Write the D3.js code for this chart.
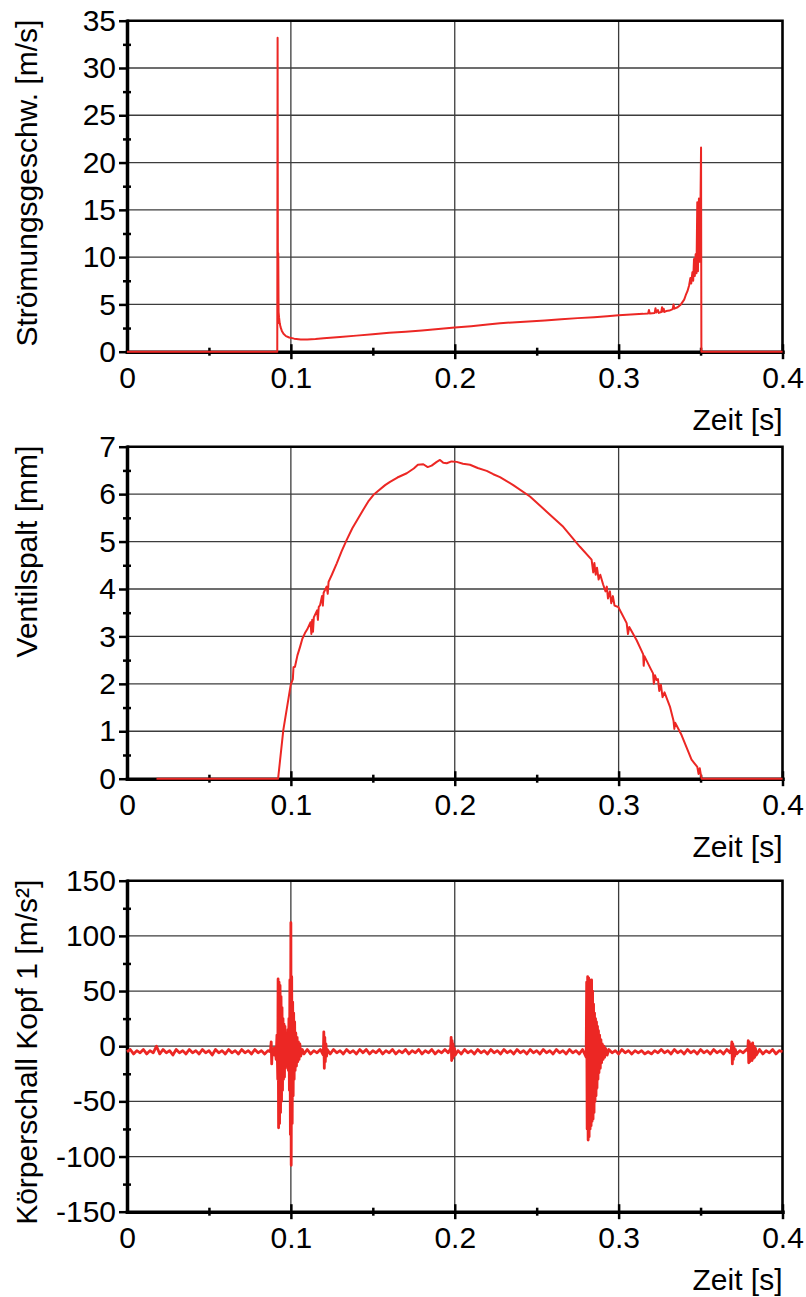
<!DOCTYPE html>
<html>
<head>
<meta charset="utf-8">
<script src="https://cdn.jsdelivr.net/npm/d3@7"></script>
<style>
  body { margin: 0; background: #fff; }
  svg { display: block; }
</style>
</head>
<body>
<div id="charts"></div>
<script>
// Layout constants
const WIDTH = 806;
const HEIGHT = 1297;
const PLOT_LEFT = 127;
const PLOT_RIGHT = 782.5;
const FONT = 'Arial, "Liberation Sans", sans-serif';
const LINE_COLOR = '#ec2724';

// Tick values / labels
const timeTicks = [0, 0.1, 0.2, 0.3, 0.4];
const velocityTicks = [0, 5, 10, 15, 20, 25, 30, 35];
const gapTicks = [0, 1, 2, 3, 4, 5, 6, 7];
const accelTicks = [-150, -100, -50, 0, 50, 100, 150];

// Axis titles
const timeTitle = 'Zeit [s]';
const velocityTitle = 'Strömungsgeschw. [m/s]';
const gapTitle = 'Ventilspalt [mm]';
const accelTitle = 'Körperschall Kopf 1 [m/s²]';

// Flow velocity [m/s] over time [s]
const velocityData = [
  [0, 0], [0.0917, 0], [0.0919, 33.2], [0.0921, 3.0], [0.0923, 10.4], [0.0925, 4.2],
  [0.0928, 3.6], [0.0932, 3.0], [0.0937, 2.6], [0.0945, 2.2], [0.0955, 1.9], [0.097, 1.65],
  [0.099, 1.5], [0.102, 1.38], [0.106, 1.3], [0.11, 1.3], [0.115, 1.35], [0.12, 1.42],
  [0.13, 1.55], [0.14, 1.7], [0.15, 1.85], [0.16, 2.0], [0.17, 2.12], [0.18, 2.25],
  [0.19, 2.4], [0.2, 2.55], [0.21, 2.7], [0.22, 2.88], [0.2276, 3.0], [0.235, 3.1],
  [0.245, 3.2], [0.255, 3.3], [0.265, 3.42], [0.275, 3.55], [0.285, 3.65], [0.293, 3.75],
  [0.3, 3.85], [0.305, 3.9], [0.31, 3.95], [0.315, 4.0], [0.318, 4.05], [0.3185, 4.4],
  [0.319, 4.05], [0.322, 4.1], [0.3225, 4.6], [0.323, 4.15], [0.324, 4.4], [0.3245, 4.1],
  [0.326, 4.2], [0.3265, 4.7], [0.327, 4.25], [0.3275, 4.55], [0.328, 4.2], [0.329, 4.3],
  [0.331, 4.35], [0.333, 4.5], [0.3335, 5.0], [0.334, 4.55], [0.336, 4.7], [0.338, 5.0],
  [0.34, 5.5], [0.341, 6.0], [0.342, 6.4], [0.343, 7.0], [0.3438, 7.8], [0.3443, 7.2],
  [0.345, 8.4], [0.3455, 7.5], [0.346, 9.8], [0.3465, 8.0], [0.347, 10.3], [0.3475, 8.3],
  [0.348, 15.8], [0.3484, 8.5], [0.349, 16.2], [0.3494, 9.5], [0.3498, 13], [0.3503, 21.6],
  [0.3505, 0], [0.4, 0]
];

// Valve gap [mm] over time [s]
const gapData = [
  [0.018, 0], [0.0922, 0], [0.0954, 1.03], [0.0999, 1.98], [0.1012, 2.1], [0.1016, 2.35],
  [0.1025, 2.36], [0.104, 2.6], [0.1056, 2.78], [0.107, 2.95], [0.1086, 3.07], [0.11, 3.15],
  [0.112, 3.3], [0.1125, 3.05], [0.113, 3.35], [0.1135, 3.1], [0.114, 3.4], [0.116, 3.55],
  [0.1165, 3.35], [0.117, 3.62], [0.1178, 3.66], [0.119, 3.85], [0.1195, 3.65], [0.12, 3.92],
  [0.1218, 4.05], [0.1225, 3.9], [0.123, 4.15], [0.125, 4.3], [0.128, 4.54], [0.131, 4.8],
  [0.134, 5.03], [0.1375, 5.28], [0.1411, 5.49], [0.145, 5.72], [0.1475, 5.86], [0.1503, 5.98],
  [0.153, 6.06], [0.1575, 6.19], [0.1605, 6.26], [0.165, 6.35], [0.1707, 6.44], [0.175, 6.54],
  [0.1775, 6.62], [0.1808, 6.63], [0.1835, 6.57], [0.1859, 6.6], [0.189, 6.68], [0.191, 6.72],
  [0.193, 6.66], [0.1951, 6.65], [0.198, 6.69], [0.2012, 6.68], [0.205, 6.64], [0.2093, 6.62],
  [0.214, 6.55], [0.2195, 6.49], [0.2235, 6.42], [0.2276, 6.36], [0.2357, 6.19], [0.2459, 5.95],
  [0.2561, 5.63], [0.2662, 5.31], [0.2764, 4.89], [0.2835, 4.62], [0.2845, 4.35], [0.2852, 4.55],
  [0.286, 4.3], [0.2868, 4.45], [0.2878, 4.2], [0.2888, 4.3], [0.2905, 4.1], [0.292, 3.95],
  [0.2928, 4.05], [0.2935, 3.8], [0.2947, 3.95], [0.2955, 3.7], [0.2965, 3.85], [0.2975, 3.65],
  [0.2998, 3.62], [0.3049, 3.28], [0.3057, 3.05], [0.3065, 3.2], [0.311, 2.92], [0.315, 2.62],
  [0.3153, 2.38], [0.3158, 2.58], [0.3195, 2.32], [0.321, 2.22], [0.3215, 2.0], [0.3222, 2.18],
  [0.3232, 2.08], [0.324, 2.1], [0.3248, 1.85], [0.3258, 1.98], [0.3268, 1.72], [0.328, 1.82],
  [0.3313, 1.52], [0.3335, 1.22], [0.334, 1.05], [0.3345, 1.18], [0.3384, 0.92], [0.3445, 0.4],
  [0.348, 0.25], [0.3488, 0.1], [0.3495, 0.22], [0.3506, 0], [0.4, 0]
];

// Structure-borne sound, head 1 [m/s²] over time [s]
const accelData = [
  [0, -5], [0.002, -3], [0.004, -7], [0.006, -4], [0.008, -6], [0.010, -3], [0.012, -7], [0.014, -4],
  [0.016, -6], [0.018, 0], [0.020, -7], [0.022, -3], [0.024, -6], [0.026, -4], [0.028, -8], [0.030, -3],
  [0.032, -6], [0.034, -4], [0.036, -7], [0.038, -3], [0.040, -6], [0.042, -4], [0.044, -7], [0.046, -3],
  [0.048, -6], [0.050, -4], [0.052, -8], [0.054, -3], [0.056, -6], [0.058, -4], [0.060, -7], [0.062, -3],
  [0.064, -6], [0.066, -4], [0.068, -7], [0.070, -3], [0.072, -6], [0.074, -4], [0.076, -7], [0.078, -3],
  [0.080, -6], [0.082, -4], [0.084, -7], [0.086, -4],
  [0.0875, -5], [0.088, 4], [0.0883, -16], [0.0886, -3], [0.089, -7], [0.0895, -2], [0.090, -8],
  [0.0905, -1], [0.091, -12], [0.0915, 10], [0.092, -30], [0.0922, 61], [0.0925, -74], [0.0928, 58],
  [0.0931, -70], [0.0934, 55], [0.0937, -60], [0.094, 45], [0.0943, -50], [0.0946, 35], [0.0949, -40],
  [0.0952, 25], [0.0955, -30], [0.0958, 20], [0.0961, -28], [0.0964, 18], [0.0967, -20], [0.097, 12],
  [0.0973, -15], [0.0976, 10], [0.0979, -18], [0.0982, 15], [0.0985, -22], [0.0988, 25], [0.0991, -40],
  [0.0994, 60], [0.0997, -80], [0.1000, 112], [0.1002, -108], [0.1005, 63], [0.1008, -70], [0.1011, 40],
  [0.1014, -45], [0.1017, 30], [0.102, -30], [0.1023, 22], [0.1026, -22], [0.103, 12], [0.1034, -18],
  [0.1038, 8], [0.1042, -14], [0.1046, 4], [0.105, -12], [0.1055, 2], [0.106, -9], [0.107, -3],
  [0.108, -7], [0.110, -3], [0.112, -7], [0.114, -4], [0.116, -6], [0.118, -3],
  [0.1198, -8], [0.1201, 13], [0.1204, -20], [0.1207, 8], [0.121, -14], [0.1214, 2], [0.1218, -9], [0.1222, -3],
  [0.124, -7], [0.126, -3], [0.128, -6], [0.130, -4], [0.132, -7], [0.134, -3], [0.136, -6], [0.138, -4],
  [0.140, -7], [0.142, -3], [0.144, -6], [0.146, -3], [0.148, -7], [0.150, -4], [0.152, -6], [0.154, -3],
  [0.156, -7], [0.158, -4], [0.160, -6], [0.162, -3], [0.164, -7], [0.166, -4], [0.168, -6], [0.170, -3],
  [0.172, -7], [0.174, -4], [0.176, -6], [0.178, -3], [0.180, -7], [0.182, -4], [0.184, -6], [0.186, -3],
  [0.188, -7], [0.190, -4], [0.192, -6], [0.194, -3], [0.196, -6],
  [0.1975, -2], [0.1978, 8], [0.1981, -13], [0.1984, 5], [0.1987, -11], [0.199, 2], [0.1994, -9],
  [0.1998, -2], [0.2003, -8],
  [0.202, -4], [0.204, -7], [0.206, -3], [0.208, -6], [0.210, -4], [0.212, -7], [0.214, -3], [0.216, -6],
  [0.218, -4], [0.220, -7], [0.222, -3], [0.224, -6], [0.226, -4], [0.228, -7], [0.230, -3], [0.232, -6],
  [0.234, -4], [0.236, -7], [0.238, -3], [0.240, -6], [0.242, -4], [0.244, -7], [0.246, -3], [0.248, -6],
  [0.250, -4], [0.252, -7], [0.254, -3], [0.256, -6], [0.258, -4], [0.260, -7], [0.262, -3], [0.264, -6],
  [0.266, -4], [0.268, -7], [0.270, -3], [0.272, -6], [0.274, -4], [0.276, -7], [0.278, -3],
  [0.2802, -10], [0.2805, 58], [0.2808, -75], [0.2811, 63], [0.2814, -85], [0.2817, 62], [0.282, -82],
  [0.2823, 60], [0.2826, -75], [0.2829, 58], [0.2832, -72], [0.2835, 60], [0.2838, -68], [0.2841, 50],
  [0.2844, -66], [0.2847, 38], [0.285, -60], [0.2853, 30], [0.2856, -50], [0.2859, 25], [0.2862, -45],
  [0.2865, 22], [0.2868, -38], [0.2871, 18], [0.2874, -30], [0.2877, 14], [0.288, -24], [0.2884, 10],
  [0.2888, -20], [0.2892, 6], [0.2896, -15], [0.290, 2], [0.2905, -12], [0.291, 0], [0.2915, -10],
  [0.292, -2], [0.293, -8],
  [0.294, -3], [0.296, -6], [0.298, -4], [0.300, -7], [0.302, -3], [0.304, -6], [0.306, -4], [0.308, -7],
  [0.310, -4], [0.312, -6], [0.314, -4], [0.316, -7], [0.318, -5], [0.320, -7], [0.322, -4], [0.324, -6],
  [0.326, -3], [0.328, -6], [0.330, -4], [0.332, -7], [0.334, -3], [0.336, -6], [0.338, -4], [0.340, -7],
  [0.342, -3], [0.344, -6], [0.346, -4], [0.348, -7], [0.350, -3], [0.352, -6], [0.354, -4], [0.356, -7],
  [0.358, -3], [0.360, -6], [0.362, -4], [0.364, -7], [0.366, -3], [0.368, -6],
  [0.3688, -2], [0.3691, 4], [0.3694, -16], [0.3697, 2], [0.370, -12], [0.3704, -1], [0.3708, -9],
  [0.3712, -3], [0.372, -7], [0.374, -4], [0.376, -6], [0.378, -3],
  [0.3788, -4], [0.3791, 5], [0.3794, -15], [0.3797, 4], [0.380, -14], [0.3803, 2], [0.3806, -12],
  [0.381, -1], [0.3814, -13], [0.3818, 3], [0.3822, -11], [0.3826, 0], [0.383, -10], [0.3835, -2],
  [0.384, -8], [0.386, -3], [0.388, -7], [0.390, -4], [0.392, -6], [0.394, -3], [0.396, -7], [0.398, -4],
  [0.400, -5]
];

const panels = [
  { top: 20.7, bottom: 351.7, ticks: velocityTicks, title: velocityTitle, data: velocityData, width: 2 },
  { top: 446.7, bottom: 778.7, ticks: gapTicks, title: gapTitle, data: gapData, width: 2 },
  { top: 880.7, bottom: 1211.7, ticks: accelTicks, title: accelTitle, data: accelData, width: 2.8 }
];

setup();

function setup () {
  const svg = d3.select('#charts')
    .append('svg')
    .attr('width', WIDTH)
    .attr('height', HEIGHT)
    .style('font-family', FONT);

  svg.append('rect')
    .attr('width', WIDTH)
    .attr('height', HEIGHT)
    .attr('fill', '#fff');

  panels.forEach(p => drawPanel(svg, p));
}

// midpoints between major ticks -> minor ticks
function minorTicks (ticks) {
  return d3.pairs(ticks).map(([a, b]) => (a + b) / 2);
}

function drawPanel (svg, p) {
  const x = d3.scaleLinear()
    .domain([timeTicks[0], timeTicks[timeTicks.length - 1]])
    .range([PLOT_LEFT, PLOT_RIGHT]);
  const y = d3.scaleLinear()
    .domain([p.ticks[0], p.ticks[p.ticks.length - 1]])
    .range([p.bottom, p.top]);

  const g = svg.append('g');

  // grid
  const grid = g.append('g')
    .attr('stroke', '#3c3c3c')
    .attr('stroke-width', 1.3);
  grid.selectAll('line.h')
    .data(p.ticks.slice(1, -1))
    .join('line')
    .attr('class', 'h')
    .attr('x1', PLOT_LEFT).attr('x2', PLOT_RIGHT)
    .attr('y1', d => y(d)).attr('y2', d => y(d));
  grid.selectAll('line.v')
    .data(timeTicks.slice(1, -1))
    .join('line')
    .attr('class', 'v')
    .attr('x1', d => x(d)).attr('x2', d => x(d))
    .attr('y1', p.top).attr('y2', p.bottom);

  // frame top + right
  g.append('path')
    .attr('d', `M${PLOT_LEFT},${p.top}H${PLOT_RIGHT}V${p.bottom}`)
    .attr('fill', 'none')
    .attr('stroke', '#000')
    .attr('stroke-width', 2.6);

  // y axis: major ticks + labels
  const yAxis = d3.axisLeft(y)
    .tickValues(p.ticks)
    .tickSizeInner(8)
    .tickSizeOuter(0)
    .tickPadding(3)
    .tickFormat(d => String(d));
  const yG = g.append('g')
    .attr('transform', `translate(${PLOT_LEFT},0)`)
    .call(yAxis);
  yG.attr('font-family', FONT).attr('font-size', 30);
  yG.select('.domain').attr('stroke-width', 3.5).attr('stroke-linecap', 'square');
  yG.selectAll('.tick line').attr('stroke-width', 2.5);
  yG.selectAll('.tick text').attr('fill', '#000');

  // y axis: minor ticks crossing the axis
  const yMinor = d3.axisLeft(y)
    .tickValues(minorTicks(p.ticks))
    .tickSize(8)
    .tickFormat('');
  const yMg = g.append('g')
    .attr('transform', `translate(${PLOT_LEFT + 4},0)`)
    .call(yMinor);
  yMg.select('.domain').remove();
  yMg.selectAll('.tick line').attr('stroke-width', 2.5);

  // x axis: line + labels
  const xAxis = d3.axisBottom(x)
    .tickValues(timeTicks)
    .tickSize(0)
    .tickPadding(15)
    .tickFormat(d => d === 0 ? '0' : d3.format('.1f')(d));
  const xG = g.append('g')
    .attr('transform', `translate(0,${p.bottom})`)
    .call(xAxis);
  xG.attr('font-family', FONT).attr('font-size', 30);
  xG.select('.domain').attr('stroke-width', 3.5).attr('stroke-linecap', 'square');
  xG.selectAll('.tick text').attr('fill', '#000');

  // x axis: major ticks crossing
  const xMajor = d3.axisBottom(x)
    .tickValues(timeTicks.slice(1))
    .tickSize(15)
    .tickFormat('');
  const xMg = g.append('g')
    .attr('transform', `translate(0,${p.bottom - 7.5})`)
    .call(xMajor);
  xMg.select('.domain').remove();
  xMg.selectAll('.tick line').attr('stroke-width', 2.5);

  // x axis: minor ticks crossing
  const xMinor = d3.axisBottom(x)
    .tickValues(minorTicks(timeTicks))
    .tickSize(8)
    .tickFormat('');
  const xNg = g.append('g')
    .attr('transform', `translate(0,${p.bottom - 4})`)
    .call(xMinor);
  xNg.select('.domain').remove();
  xNg.selectAll('.tick line').attr('stroke-width', 2.5);

  // titles
  g.append('text')
    .attr('transform', `translate(37,${p.top - 1}) rotate(-90)`)
    .attr('text-anchor', 'end')
    .attr('font-size', 30)
    .attr('fill', '#000')
    .text(p.title);

  g.append('text')
    .attr('x', PLOT_RIGHT)
    .attr('y', p.bottom + 78)
    .attr('text-anchor', 'end')
    .attr('font-size', 30)
    .attr('fill', '#000')
    .text(timeTitle);

  // data line
  const line = d3.line()
    .x(d => x(d[0]))
    .y(d => y(d[1]));

  g.append('path')
    .datum(p.data)
    .attr('d', line)
    .attr('fill', 'none')
    .attr('stroke', LINE_COLOR)
    .attr('stroke-width', p.width)
    .attr('stroke-linejoin', 'round');
}
</script>
</body>
</html>
